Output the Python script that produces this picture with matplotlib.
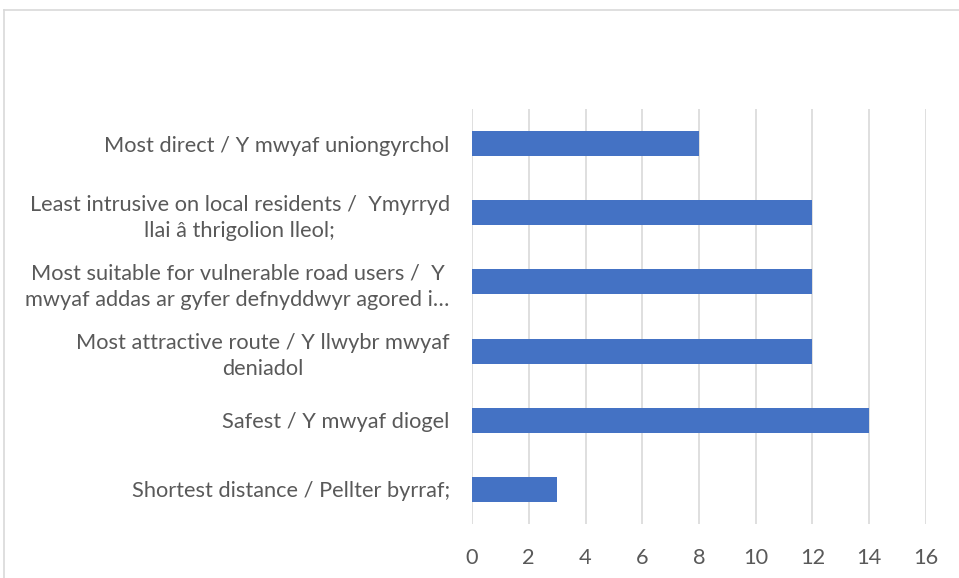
import matplotlib.pyplot as plt
from matplotlib.lines import Line2D

categories = [
    "Shortest distance / Pellter byrraf;",
    "Safest / Y mwyaf diogel",
    "Most attractive route / Y llwybr mwyaf\ndeniadol",
    "Most suitable for vulnerable road users /  Y\nmwyaf addas ar gyfer defnyddwyr agored i\u2026",
    "Least intrusive on local residents /  Ymyrryd\nllai \u00e2 thrigolion lleol;",
    "Most direct / Y mwyaf uniongyrchol",
]
values = [3, 14, 12, 12, 12, 8]
xticks = [0, 2, 4, 6, 8, 10, 12, 14, 16]

plt.rcParams['font.family'] = ['Lato', 'DejaVu Sans']
fig = plt.figure(figsize=(9.59, 5.78), dpi=100)
ax = fig.add_axes([472/959, 54/578, 454/959, 415/578])

ax.barh(range(len(categories)), values, height=0.36, color='#4472C4', zorder=3)
ax.set_xlim(0, 16)
ax.set_ylim(-0.5, len(categories) - 0.5)
ax.set_xticks(xticks)
ax.set_yticks(range(len(categories)))
ax.set_yticklabels(categories, multialignment='center', linespacing=1.4)
ax.grid(axis='x', color='#d9d9d9', linewidth=1.2, zorder=0)
for s in ax.spines.values():
    s.set_visible(False)
ax.tick_params(axis='y', length=0, pad=16, labelsize=15.7, labelcolor='#595959')
ax.tick_params(axis='x', length=0, pad=17, labelsize=15.7, labelcolor='#595959')

# chart area border
fig.add_artist(Line2D([4/959, 4/959], [0, 1 - 10/578], color='#d9d9d9', lw=1.2))
fig.add_artist(Line2D([4/959, 1], [1 - 10/578, 1 - 10/578], color='#d9d9d9', lw=1.2))

fig.savefig('out.png', dpi=100)
